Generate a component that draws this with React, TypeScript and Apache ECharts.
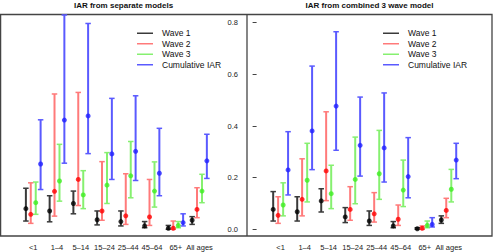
import React, { useEffect, useRef } from "react";
import * as echarts from "echarts";

const categories = ["<1", "1–4", "5–14", "15–24", "25–44", "45–64", "65+", "All ages"];
const waves = ["Wave 1", "Wave 2", "Wave 3", "Cumulative IAR"];
const yTicks = [0, 0.2, 0.4, 0.6, 0.8];

// Left panel: separate models
const w1SepEst = [0.080, 0.071, 0.100, 0.037, 0.030, 0.013, 0.004, 0.035];
const w1SepLo = [0.032, 0.029, 0.060, 0.017, 0.013, 0.006, 0.000, 0.019];
const w1SepHi = [0.159, 0.130, 0.148, 0.071, 0.071, 0.030, 0.015, 0.049];
const w2SepEst = [0.058, 0.147, 0.193, 0.071, 0.052, 0.048, 0.004, 0.077];
const w2SepLo = [0.023, 0.051, 0.092, 0.035, 0.019, 0.015, 0.000, 0.045];
const w2SepHi = [0.180, 0.524, 0.530, 0.262, 0.215, 0.193, 0.032, 0.161];
const w3SepEst = [0.103, 0.187, 0.133, 0.171, 0.207, 0.148, 0.015, 0.148];
const w3SepLo = [0.058, 0.109, 0.080, 0.100, 0.122, 0.086, 0.006, 0.103];
const w3SepHi = [0.183, 0.329, 0.227, 0.297, 0.340, 0.261, 0.030, 0.213];
const cumSepEst = [0.253, 0.423, 0.439, 0.292, 0.302, 0.217, 0.026, 0.265];
const cumSepLo = [0.154, 0.256, 0.293, 0.193, 0.189, 0.130, 0.013, 0.197];
const cumSepHi = [0.424, 0.830, 0.797, 0.507, 0.517, 0.391, 0.060, 0.368];

// Right panel: combined 3 wave model
const w1CombEst = [0.077, 0.068, 0.110, 0.048, 0.032, 0.013, 0.002, 0.036];
const w1CombLo = [0.032, 0.032, 0.067, 0.026, 0.015, 0.006, 0.000, 0.023];
const w1CombHi = [0.146, 0.126, 0.157, 0.084, 0.071, 0.030, 0.006, 0.052];
const w2CombEst = [0.054, 0.116, 0.226, 0.077, 0.060, 0.039, 0.004, 0.073];
const w2CombLo = [0.023, 0.052, 0.111, 0.035, 0.028, 0.015, 0.000, 0.045];
const w2CombHi = [0.126, 0.273, 0.455, 0.165, 0.142, 0.094, 0.013, 0.120];
const w3CombEst = [0.094, 0.190, 0.138, 0.193, 0.215, 0.152, 0.015, 0.155];
const w3CombLo = [0.052, 0.106, 0.080, 0.099, 0.116, 0.088, 0.006, 0.106];
const w3CombHi = [0.180, 0.333, 0.248, 0.357, 0.383, 0.268, 0.032, 0.232];
const cumCombEst = [0.230, 0.381, 0.477, 0.325, 0.315, 0.204, 0.019, 0.268];
const cumCombLo = [0.133, 0.231, 0.306, 0.206, 0.183, 0.122, 0.009, 0.196];
const cumCombHi = [0.378, 0.632, 0.765, 0.512, 0.528, 0.355, 0.045, 0.333];

const panels = [
  {
    title: "IAR from separate models",
    est: [w1SepEst, w2SepEst, w3SepEst, cumSepEst],
    lo: [w1SepLo, w2SepLo, w3SepLo, cumSepLo],
    hi: [w1SepHi, w2SepHi, w3SepHi, cumSepHi],
  },
  {
    title: "IAR from combined 3 wave model",
    est: [w1CombEst, w2CombEst, w3CombEst, cumCombEst],
    lo: [w1CombLo, w2CombLo, w3CombLo, cumCombLo],
    hi: [w1CombHi, w2CombHi, w3CombHi, cumCombHi],
  },
];

const offsets = [-0.31, -0.105, 0.105, 0.31];
const whiskerColors = ["#3a3a3a", "#ff7a7a", "#86f070", "#5a5aff"];
const dotColors = ["#000000", "#ff0000", "#3fee22", "#1f1fff"];
const FONT = "Liberation Sans, Arial, Helvetica, sans-serif";

export default function App() {
  const ref = useRef<HTMLDivElement>(null);

  useEffect(() => {
    if (!ref.current) return;
    const chart = echarts.init(ref.current, undefined, { renderer: "svg" });

    const gridTop = 22.7;
    const gridH = 206.6;

    const series: any[] = [];
    panels.forEach((p, pi) => {
      waves.forEach((w, wi) => {
        const c = whiskerColors[wi];
        series.push({
          type: "custom",
          name: w,
          xAxisIndex: pi,
          yAxisIndex: pi,
          clip: false,
          itemStyle: { color: c },
          encode: { x: 0, y: [1, 2] },
          data: categories.map((_, i) => [i + 1 + offsets[wi], p.lo[wi][i], p.hi[wi][i]]),
          renderItem: (params: any, api: any) => {
            const x = api.value(0);
            const pl = api.coord([x, api.value(1)]);
            const ph = api.coord([x, api.value(2)]);
            const hw = 2.75;
            return {
              type: "group",
              children: [
                { type: "line", shape: { x1: pl[0], y1: pl[1], x2: ph[0], y2: ph[1] }, style: { stroke: c, lineWidth: 2 } },
                { type: "line", shape: { x1: pl[0] - hw, y1: pl[1], x2: pl[0] + hw, y2: pl[1] }, style: { stroke: c, lineWidth: 1.5 } },
                { type: "line", shape: { x1: ph[0] - hw, y1: ph[1], x2: ph[0] + hw, y2: ph[1] }, style: { stroke: c, lineWidth: 1.5 } },
              ],
            };
          },
        });
      });
      waves.forEach((w, wi) => {
        series.push({
          type: "scatter",
          name: w,
          xAxisIndex: pi,
          yAxisIndex: pi,
          symbol: "circle",
          symbolSize: 5,
          z: 5,
          itemStyle: { color: dotColors[wi] },
          data: categories.map((_, i) => [i + 1 + offsets[wi], p.est[wi][i]]),
        });
      });
    });

    const labelFmt = (v: number) => {
      const r = Math.round(v);
      if (Math.abs(v - r) < 1e-6 && r >= 1 && r <= categories.length) return categories[r - 1];
      return "";
    };

    const xAxisBase = (gi: number, max: number) => ({
      type: "value",
      gridIndex: gi,
      min: -0.4,
      max,
      interval: 0.2,
      axisLine: { show: false },
      axisTick: { show: false },
      splitLine: { show: false },
      axisLabel: {
        formatter: labelFmt,
        fontSize: 7.5,
        fontFamily: FONT,
        color: "#222",
        margin: 14.5,
        showMinLabel: false,
        showMaxLabel: false,
      },
    });

    const legendBase = (left: number) => ({
      orient: "vertical",
      left,
      top: 28,
      padding: 0,
      itemGap: 0,
      itemWidth: 16,
      itemHeight: 1.5,
      icon: "rect",
      selectedMode: false,
      data: waves,
      textStyle: { fontSize: 8.5, fontFamily: FONT, color: "#111", lineHeight: 10.5, padding: [0, 0, 0, 4] },
    });

    chart.setOption({
      animation: false,
      backgroundColor: "#ffffff",
      title: [
        { text: panels[0].title, left: 123.5, textAlign: "center", top: 1, padding: 0, textStyle: { fontSize: 8, fontWeight: "bold", fontFamily: FONT, color: "#111" } },
        { text: panels[1].title, left: 369.5, textAlign: "center", top: 1, padding: 0, textStyle: { fontSize: 8, fontWeight: "bold", fontFamily: FONT, color: "#111" } },
      ],
      legend: [legendBase(137), legendBase(383)],
      grid: [
        { left: 0, top: gridTop, width: 247, height: gridH, containLabel: false },
        { left: 247, top: gridTop, width: 245, height: gridH, containLabel: false },
      ],
      xAxis: [xAxisBase(0, 10), xAxisBase(1, 9.8)],
      yAxis: [
        { type: "value", gridIndex: 0, min: 0, max: 0.8, interval: 0.2, show: false },
        {
          type: "value",
          gridIndex: 1,
          min: 0,
          max: 0.8,
          interval: 0.2,
          position: "left",
          axisLine: { show: false },
          splitLine: { show: false },
          axisTick: { show: true, length: 4, lineStyle: { color: "#444", width: 1 } },
          axisLabel: {
            fontSize: 7.5,
            fontFamily: FONT,
            color: "#222",
            margin: 9,
            customValues: yTicks,
            formatter: (v: number) => v.toFixed(1),
          },
        },
      ],
      graphic: [
        { type: "rect", shape: { x: 0.6, y: 14.5, width: 491.4, height: 221.5 }, style: { fill: "none", stroke: "#444", lineWidth: 1.3 }, silent: true },
        { type: "line", shape: { x1: 247, y1: 14.5, x2: 247, y2: 236 }, style: { stroke: "#444", lineWidth: 1.3 }, silent: true },
      ],
      series,
    });

    return () => chart.dispose();
  }, []);

  return <div ref={ref} style={{ width: 493, height: 252, position: "fixed", left: 0, top: 0 }} />;
}
